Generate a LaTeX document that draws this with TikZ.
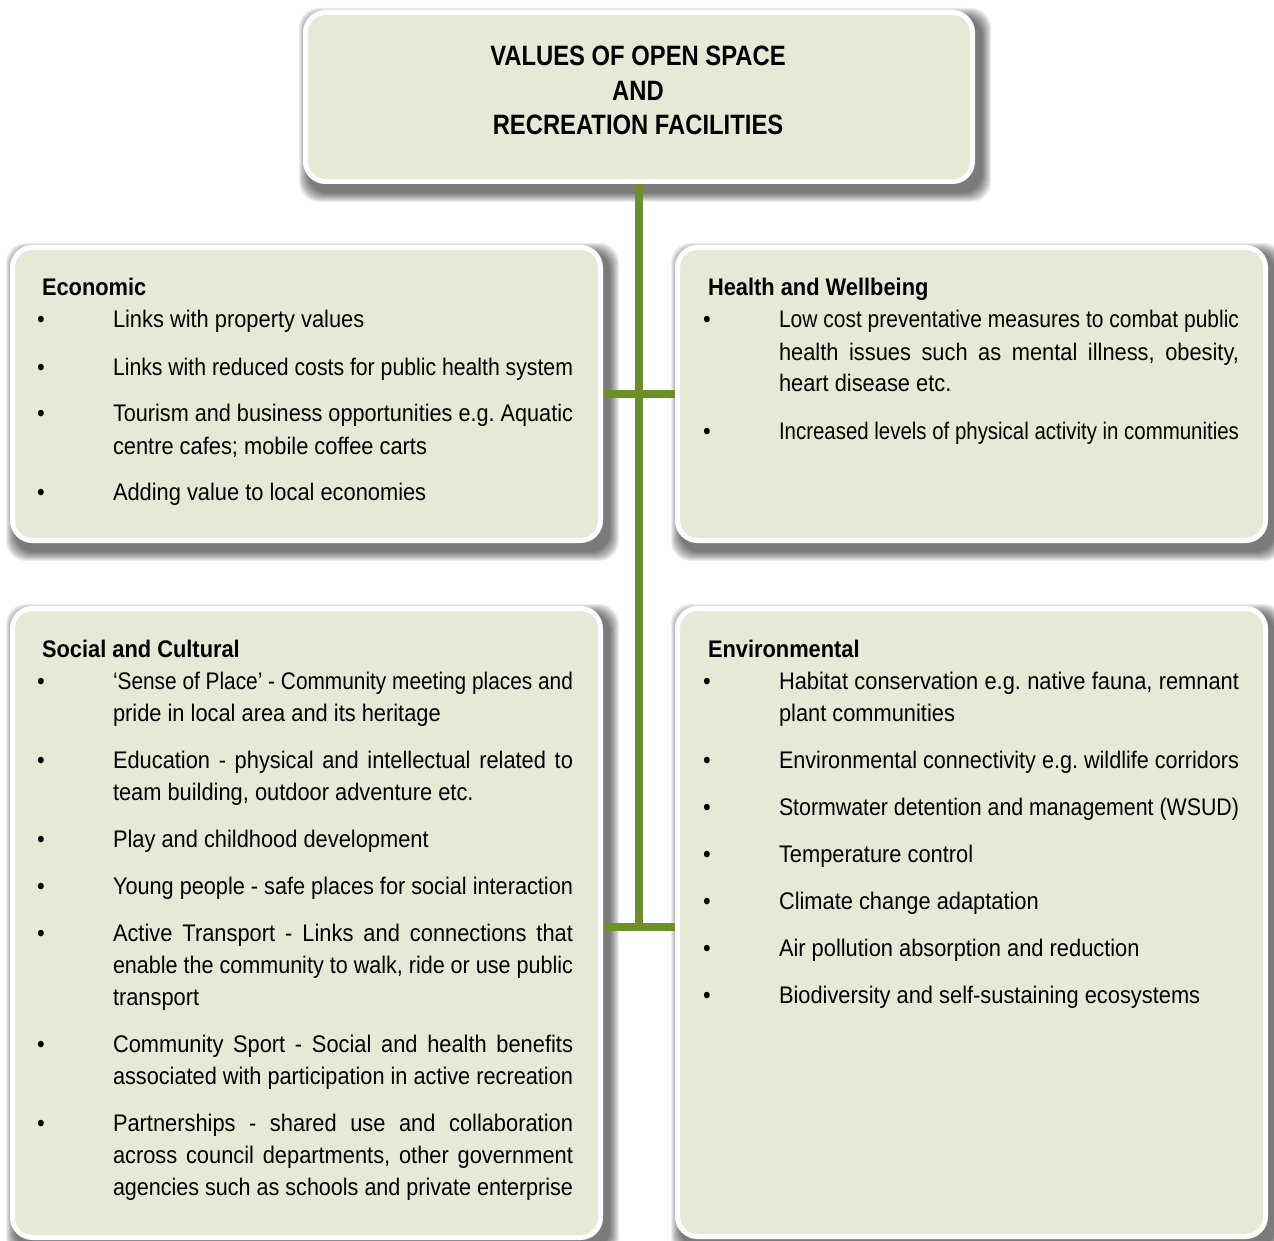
\documentclass[tikz,border=0pt]{standalone}
\usepackage{fontspec}
\usepackage{graphicx}
\setmainfont{Liberation Sans}[FakeStretch=0.91]
\newfontfamily\titlefont{Liberation Sans}[FakeStretch=0.85]
\frenchspacing

\definecolor{panelfill}{RGB}{231,233,214}
\definecolor{trunkgreen}{RGB}{110,143,40}

\pgfdeclarelayer{shade}
\pgfdeclarelayer{wire}
\pgfsetlayers{shade,wire,main}

\tikzset{
  panel/.style={draw=white, line width=5pt, fill=panelfill, rounded corners=20pt, inner sep=0pt},
  trunk/.style={draw=trunkgreen, line width=7.5pt},
  blurlayer/.style={fill=black, opacity=0.07},
  textblock/.style={anchor=base west, inner sep=0pt, outer sep=0pt},
}

% justified line of fixed width
\newlength\jw
\setlength\jw{460pt}
\newsavebox\jbox
\newcommand\jline[1]{\sbox\jbox{#1}%
  \ifdim\wd\jbox>\jw\resizebox{\jw}{\height}{\usebox\jbox}\else\makebox[\jw][s]{#1}\fi}
% bulleted first line, continuation line, gap between items
\newcommand\bfirst[1]{\hbox{\kern-5pt\makebox[76pt][l]{•}#1}}
\newcommand\bnext[1]{\hbox{\kern71pt #1}}
\newcommand\gap{\vskip15pt}
\newcommand\head[1]{\hbox{\bfseries #1}}

% soft drop shadow under a panel (x1,y1,x2,y2 with y measured downward)
\newcommand\panelshadow[4]{%
  \begin{pgfonlayer}{shade}
  \foreach \k in {1,...,10}{
    \pgfmathsetmacro\e{11-\k}
    \fill[blurlayer, rounded corners=20pt]
      ({#1+6-\e},{-(#2+8-\e)}) rectangle ({#3+6+\e},{-(#4+8+\e)});
  }
  \end{pgfonlayer}}
\newcommand\panelbox[5]{%
  \panelshadow{#2}{#3}{#4}{#5}
  \node[panel, minimum width={(#4-#2-5)*1pt}, minimum height={(#5-#3-5)*1pt}]
    (#1) at ({(#2+#4)/2},{-(#3+#5)/2}) {};}

\begin{document}
\begin{tikzpicture}[x=1pt,y=1pt]
\useasboundingbox (0,0) rectangle (1274,-1241);

% panels
\panelbox{top}{303}{10}{975}{184}
\panelbox{eco}{10}{245}{603}{543}
\panelbox{hea}{675}{245}{1268}{543}
\panelbox{soc}{10}{606}{603}{1240}
\panelbox{env}{675}{606}{1268}{1239}

% connecting trunk
\coordinate (jA) at (639,-394);
\coordinate (jB) at (639,-927);
\begin{pgfonlayer}{wire}
\draw[trunk] (top.south) -- ([yshift=-3.75pt]jB);
\draw[trunk] (eco.east |- jA) -- (hea.west |- jA);
\draw[trunk] (soc.east |- jB) -- (env.west |- jB);
\end{pgfonlayer}

% title
\node[anchor=base, inner sep=0pt] (title) at (638,-66) {%
  \begin{minipage}[t]{620pt}\centering\titlefont\bfseries\fontsize{28}{34.5}\selectfont
  VALUES OF OPEN SPACE\\AND\\RECREATION FACILITIES\end{minipage}};

% Economic
\node[textblock] (ecotext) at (42,-296) {%
  \begin{minipage}[t]{570pt}\fontsize{24}{32}\selectfont
  \head{Economic}
  \bfirst{Links with property values}
  \gap
  \bfirst{\jline{Links with reduced costs for public health system}}
  \gap
  \bfirst{\jline{Tourism and business opportunities e.g. Aquatic}}
  \bnext{centre cafes; mobile coffee carts}
  \gap
  \bfirst{Adding value to local economies}
  \end{minipage}};

% Health and Wellbeing
\node[textblock] (heatext) at (708,-296) {%
  \begin{minipage}[t]{570pt}\fontsize{24}{32}\selectfont
  \head{Health and Wellbeing}
  \bfirst{\jline{Low cost preventative measures to combat public}}
  \bnext{\jline{health issues such as mental illness, obesity,}}
  \bnext{heart disease etc.}
  \gap
  \bfirst{\jline{Increased levels of physical activity in communities}}
  \end{minipage}};

% Social and Cultural
\node[textblock] (soctext) at (42,-657) {%
  \begin{minipage}[t]{570pt}\fontsize{24}{32}\selectfont
  \head{Social and Cultural}
  \bfirst{\jline{‘Sense of Place’ - Community meeting places and}}
  \bnext{pride in local area and its heritage}
  \gap
  \bfirst{\jline{Education - physical and intellectual related to}}
  \bnext{team building, outdoor adventure etc.}
  \gap
  \bfirst{Play and childhood development}
  \gap
  \bfirst{\jline{Young people - safe places for social interaction}}
  \gap
  \bfirst{\jline{Active Transport - Links and connections that}}
  \bnext{\jline{enable the community to walk, ride or use public}}
  \bnext{transport}
  \gap
  \bfirst{\jline{Community Sport - Social and health benefits}}
  \bnext{\jline{associated with participation in active recreation}}
  \gap
  \bfirst{\jline{Partnerships - shared use and collaboration}}
  \bnext{\jline{across council departments, other government}}
  \bnext{\jline{agencies such as schools and private enterprise}}
  \end{minipage}};

% Environmental
\node[textblock] (envtext) at (708,-657) {%
  \begin{minipage}[t]{570pt}\fontsize{24}{32}\selectfont
  \head{Environmental}
  \bfirst{\jline{Habitat conservation e.g. native fauna, remnant}}
  \bnext{plant communities}
  \gap
  \bfirst{\jline{Environmental connectivity e.g. wildlife corridors}}
  \gap
  \bfirst{\jline{Stormwater detention and management (WSUD)}}
  \gap
  \bfirst{Temperature control}
  \gap
  \bfirst{Climate change adaptation}
  \gap
  \bfirst{Air pollution absorption and reduction}
  \gap
  \bfirst{Biodiversity and self-sustaining ecosystems}
  \end{minipage}};
\end{tikzpicture}
\end{document}
